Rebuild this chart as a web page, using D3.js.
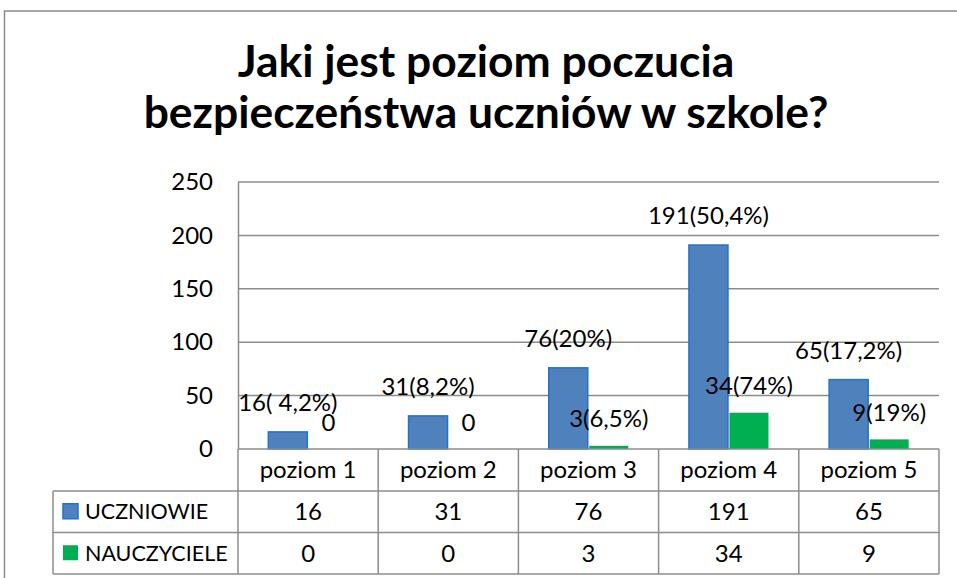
<!DOCTYPE html>
<html><head><meta charset="utf-8">
<script src="https://cdn.jsdelivr.net/npm/d3@7"></script>
<style>
html,body{margin:0;padding:0;background:#fff;}
svg{display:block;font-family:Lato,"Open Sans",sans-serif;}
</style></head>
<body>
<svg id="chart" width="957" height="578"></svg>
<script>
const titleLines = ["Jaki jest poziom poczucia", "bezpieczeństwa uczniów w szkole?"];
const categories = ["poziom 1", "poziom 2", "poziom 3", "poziom 4", "poziom 5"];
const seriesNames = ["UCZNIOWIE", "NAUCZYCIELE"];
const uczniowie = [16, 31, 76, 191, 65];
const nauczyciele = [0, 0, 3, 34, 9];
const uczniowieLabels = ["16( 4,2%)", "31(8,2%)", "76(20%)", "191(50,4%)", "65(17,2%)"];
const nauczycieleLabels = ["0", "0", "3(6,5%)", "34(74%)", "9(19%)"];
const yTicks = [0, 50, 100, 150, 200, 250];
const colors = ["#4F81BD", "#00B050"];
const strokes = ["#1F74CC", "#00B050"];

const series = [
  {name: seriesNames[0], values: uczniowie, labels: uczniowieLabels},
  {name: seriesNames[1], values: nauczyciele, labels: nauczycieleLabels}
];

const svg = d3.select("#chart");
const L = 238, R = 939, T = 182, B = 449;
const gridColor = "#8c8c8c";
const fs = 24;

// outer border
svg.append("rect").attr("x", 4.5).attr("y", 11).attr("width", 1000).attr("height", 700)
  .attr("fill", "none").attr("stroke", gridColor).attr("stroke-width", 1.5);

// title
svg.append("g").selectAll("text").data(titleLines).join("text")
  .attr("x", 486).attr("y", (d, i) => 77 + i * 51)
  .attr("text-anchor", "middle").attr("font-weight", 700).attr("font-size", 44.4)
  .attr("fill", "#000").text(d => d);

const y = d3.scaleLinear().domain([0, 250]).range([B, T]);
const x = d3.scaleBand().domain(categories).range([L, R]).paddingInner(0.422).paddingOuter(0.211);
const xs = d3.scaleBand().domain(seriesNames).range([0, x.bandwidth()]);
const step = x.step();

// gridlines
svg.append("g").selectAll("line").data(yTicks.filter(t => t > 0)).join("line")
  .attr("x1", L).attr("x2", R).attr("y1", d => y(d)).attr("y2", d => y(d))
  .attr("stroke", gridColor).attr("stroke-width", 1.5);

// y axis via d3 axis
const yAxis = svg.append("g").attr("transform", `translate(${L},0)`)
  .call(d3.axisLeft(y).tickValues(yTicks).tickSize(0).tickPadding(25));
yAxis.select(".domain").attr("stroke", gridColor).attr("stroke-width", 1.5);
yAxis.selectAll("text").attr("font-size", fs).attr("font-family", "Lato").attr("fill", "#000");

// bars
const gBars = svg.append("g");
series.forEach((s, si) => {
  gBars.append("g").selectAll("rect").data(s.values).join("rect")
    .attr("x", (d, i) => x(categories[i]) + xs(s.name) + 0.75)
    .attr("width", xs.bandwidth() - 1.5)
    .attr("y", d => y(d))
    .attr("height", d => B - y(d))
    .attr("fill", colors[si])
    .attr("stroke", strokes[si]).attr("stroke-width", si === 0 ? 1.5 : 0);
});

// data labels
series.forEach((s, si) => {
  svg.append("g").selectAll("text").data(s.values).join("text")
    .attr("x", (d, i) => x(categories[i]) + xs(s.name) + xs.bandwidth() / 2)
    .attr("y", d => y(d) - (si === 0 ? 21 : 18.5))
    .attr("text-anchor", "middle").attr("font-size", fs).attr("fill", "#000")
    .text((d, i) => s.labels[i]);
});

// x axis (category header)
svg.append("line").attr("x1", L).attr("x2", R).attr("y1", B).attr("y2", B)
  .attr("stroke", gridColor).attr("stroke-width", 1.5);

// data table
const rowTops = [B, 491, 532.5, 574];
const tableLeft = 53;
const gT = svg.append("g").attr("stroke", gridColor).attr("stroke-width", 1.5);
gT.append("line").attr("x1", tableLeft).attr("x2", R).attr("y1", rowTops[1]).attr("y2", rowTops[1]);
gT.append("line").attr("x1", tableLeft).attr("x2", R).attr("y1", rowTops[2]).attr("y2", rowTops[2]);
gT.append("line").attr("x1", tableLeft).attr("x2", R).attr("y1", rowTops[3]).attr("y2", rowTops[3]);
const vx = categories.map(c => x(c) - x.paddingOuter() * step).concat([R]);
gT.selectAll("line.v").data(vx).join("line").attr("class", "v")
  .attr("x1", d => d).attr("x2", d => d).attr("y1", B).attr("y2", rowTops[3]);
gT.append("line").attr("x1", tableLeft).attr("x2", tableLeft).attr("y1", rowTops[1]).attr("y2", rowTops[3]);

// header text
svg.append("g").selectAll("text").data(categories).join("text")
  .attr("x", d => x(d) + x.bandwidth() / 2).attr("y", (rowTops[0] + rowTops[1]) / 2)
  .attr("dy", "0.35em").attr("text-anchor", "middle").attr("font-size", fs).attr("fill", "#000")
  .text(d => d);

// series rows
series.forEach((s, si) => {
  const cy = (rowTops[si + 1] + rowTops[si + 2]) / 2;
  svg.append("rect").attr("x", 63).attr("y", cy - 8).attr("width", 15).attr("height", 15)
    .attr("fill", colors[si]).attr("stroke", strokes[si]).attr("stroke-width", si === 0 ? 1.5 : 0);
  svg.append("text").attr("x", 85).attr("y", cy).attr("dy", "0.35em")
    .attr("font-size", 21.5).attr("fill", "#000").text(s.name);
  svg.append("g").selectAll("text").data(s.values).join("text")
    .attr("x", (d, i) => x(categories[i]) + x.bandwidth() / 2).attr("y", cy).attr("dy", "0.35em")
    .attr("text-anchor", "middle").attr("font-size", fs).attr("fill", "#000")
    .text(d => d);
});
</script>
</body></html>
